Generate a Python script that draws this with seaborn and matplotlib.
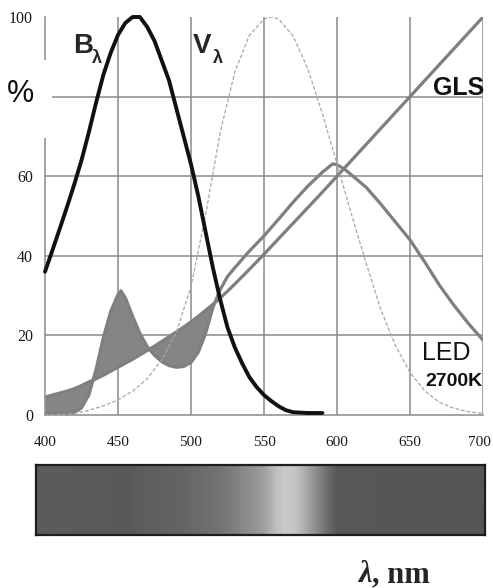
import numpy as np
import matplotlib
matplotlib.use("Agg")
import matplotlib.pyplot as plt
from matplotlib.colors import LinearSegmentedColormap
from matplotlib.patches import Rectangle
from matplotlib.transforms import ScaledTranslation
import seaborn as sns

# Relative spectral power (%) of the two light sources, on a shared wavelength grid (nm)
wl_src = [400, 405, 410, 415, 420, 425, 430, 435, 440, 445, 450, 452, 455, 460, 465,
          470, 475, 480, 485, 490, 495, 500, 505, 510, 515, 520, 525, 530, 540, 550,
          560, 570, 580, 590, 597, 600, 605, 610, 620, 630, 640, 650, 660, 670, 680,
          690, 700]
gls = [4.5, 5.0, 5.5, 6.0, 6.6, 7.4, 8.3, 9.1, 10.0, 11.0, 12.0, 12.4, 13.0, 14.0, 15.1,
       16.2, 17.3, 18.5, 19.7, 20.9, 22.1, 23.4, 24.8, 26.3, 27.8, 29.4, 31.1, 32.9, 36.6, 40.4,
       44.3, 48.2, 52.1, 56.0, 58.8, 60.0, 62.0, 64.0, 68.0, 72.0, 76.0, 80.0, 84.0, 88.0, 92.0,
       96.0, 100.0]
led = [0.3, 0.3, 0.3, 0.4, 0.6, 1.8, 5.0, 11.5, 19.5, 26.0, 30.3, 31.2, 29.5, 24.8, 20.5,
       17.2, 15.0, 13.4, 12.4, 12.0, 12.2, 13.2, 15.8, 20.5, 27.0, 31.5, 34.8, 37.0, 41.2, 45.0,
       49.2, 53.5, 57.5, 61.0, 63.1, 62.9, 61.8, 60.3, 57.2, 53.0, 48.5, 44.0, 38.5, 32.7, 27.6,
       23.0, 18.8]

# Blue-light hazard function B(lambda), %
wl_blue = [400, 405, 410, 415, 420, 425, 430, 435, 440, 445, 450, 455, 460, 465, 470, 475,
           480, 485, 490, 495, 500, 505, 510, 515, 520, 525, 530, 535, 540, 545, 550, 555,
           560, 565, 570, 580, 590]
blue_hazard = [36, 41.3, 46.7, 52.2, 57.9, 64.0, 71.0, 78.5, 85.5, 91, 95.5, 98.5, 100, 100,
               97.5, 94, 89, 84, 77, 70, 63, 55, 46, 37, 29, 22, 17, 13, 9.5, 7, 5, 3.5,
               2.2, 1.2, 0.7, 0.5, 0.5]

# Photopic luminous efficiency V(lambda), %
wl_v = [400, 410, 420, 430, 440, 450, 460, 470, 480, 490, 500, 510, 520, 530, 540, 550, 555,
        560, 570, 580, 590, 600, 610, 620, 630, 640, 650, 660, 670, 680, 690, 700]
v_lambda = [0.04, 0.12, 0.4, 1.16, 2.3, 3.8, 6.0, 9.1, 13.9, 20.8, 32.3, 50.3, 71.0, 86.2,
            95.4, 99.5, 100.0, 99.5, 95.2, 87.0, 75.7, 63.1, 50.3, 38.1, 26.5, 17.5, 10.7,
            6.1, 3.2, 1.7, 0.82, 0.41]

x_ticks = [400, 450, 500, 550, 600, 650, 700]
x_tick_labels = ["400", "450", "500", "550", "600", "650", "700"]
y_ticks = [0, 20, 40, 60, 80, 100]
y_tick_labels = ["0", "20", "40", "60", "", "100"]

# Grey rendering of the visible spectrum strip (nm -> grey level 0..255)
bar_wl = [393.8, 420, 440, 455, 465, 490, 500, 515, 525, 535, 545, 552, 558, 564, 572,
          578, 585, 592, 600, 650, 701.4]
bar_grey = [91, 91, 90, 88, 94, 99, 105, 112, 122, 135, 150, 165, 190, 203, 195,
            175, 145, 115, 88, 86, 86]

sns.set_style("white")
plt.rcParams["font.family"] = ["Liberation Sans", "DejaVu Sans"]

W, H = 493, 588
fig = plt.figure(figsize=(W / 100, H / 100), dpi=100)
ax = fig.add_axes([45 / W, 1 - 415 / H, 438 / W, 398 / H])

grid_c = "#8a8a8a"
src_c = "#7f7f7f"

for xv in x_ticks[1:]:
    ax.axvline(xv, color=grid_c, lw=1.1, zorder=0)
for yv in y_ticks[1:-1]:
    ax.axhline(yv, color=grid_c, lw=1.1, zorder=0)

wl_arr = np.asarray(wl_src)
ax.fill_between(wl_arr, led, gls, where=wl_arr <= 520, interpolate=True,
                color="#858585", lw=0, zorder=1)

sns.lineplot(x=wl_src, y=gls, ax=ax, color=src_c, lw=2.3, zorder=2)
sns.lineplot(x=wl_src, y=led, ax=ax, color=src_c, lw=2.3, zorder=2)
sns.lineplot(x=wl_v, y=v_lambda, ax=ax, color="#a6a6a6", lw=0.9,
             linestyle=(0, (3, 1.6)), zorder=3)
sns.lineplot(x=wl_blue, y=blue_hazard, ax=ax, color="#111111", lw=2.8,
             zorder=4, clip_on=False)

ax.set_xlim(400, 700)
ax.set_ylim(0, 100)
ax.set_xlabel("")
ax.set_ylabel("")
ax.set_xticks(x_ticks)
ax.set_xticklabels(x_tick_labels, family="Liberation Serif", fontsize=11)
ax.set_yticks(y_ticks)
ax.set_yticklabels(y_tick_labels, family="Liberation Serif", fontsize=11.5)
ax.tick_params(axis="x", length=5, width=1.1, color=grid_c, labelcolor="#1a1a1a", pad=10)
ax.tick_params(axis="y", length=3.6, width=1.1, color=grid_c, labelcolor="#1a1a1a", pad=5)
# keep the last wavelength label inside the canvas
last_lbl = ax.get_xticklabels()[-1]
last_lbl.set_transform(last_lbl.get_transform()
                       + ScaledTranslation(-2.5 / 72, 0, fig.dpi_scale_trans))
for side in ("top", "right"):
    ax.spines[side].set_visible(False)
for side in ("left", "bottom"):
    ax.spines[side].set_color(grid_c)
    ax.spines[side].set_linewidth(1.1)

# curve labels
ax.text(419.2, 91, "B", fontsize=20, weight="bold", ha="left", va="baseline")
ax.text(432.2, 88.4, "λ", fontsize=13, weight="bold", ha="left", va="baseline")
ax.text(501.4, 91, "V", fontsize=20, weight="bold", ha="left", va="baseline")
ax.text(515.0, 88.4, "λ", fontsize=13, weight="bold", ha="left", va="baseline")
ax.text(665.8, 80.4, "GLS", fontsize=18, weight="bold", ha="left", va="baseline",
        color="#111111", clip_on=False)
ax.text(658.2, 13.8, "LED", fontsize=18, ha="left", va="baseline", color="#111111")
ax.text(660.3, 7.3, "2700K", fontsize=14, weight="bold", ha="left", va="baseline",
        color="#111111")

# axis unit label on the y axis
fig.add_artist(Rectangle((0, 1 - 138 / H), 52 / W, 78 / H, transform=fig.transFigure,
                         facecolor="white", edgecolor="none", zorder=5))
fig.text(20.5 / W, 1 - 94 / H, "%", fontsize=22, ha="center", va="center",
         color="#111111", zorder=6)

# visible-spectrum strip
bax = fig.add_axes([36 / W, 1 - 535 / H, 449 / W, 70 / H])
span = bar_wl[-1] - bar_wl[0]
cmap = LinearSegmentedColormap.from_list(
    "spectrum_grey",
    [((w - bar_wl[0]) / span, (g / 255, g / 255, g / 255)) for w, g in zip(bar_wl, bar_grey)])
ramp = np.linspace(bar_wl[0], bar_wl[-1], 900)[None, :]
bax.imshow(ramp, aspect="auto", cmap=cmap, vmin=bar_wl[0], vmax=bar_wl[-1],
           extent=[bar_wl[0], bar_wl[-1], 0, 1])
bax.set_xticks([])
bax.set_yticks([])
for s in bax.spines.values():
    s.set_color("#1e1e1e")
    s.set_linewidth(1.6)

# x axis quantity
t_lam = fig.text(358 / W, 1 - 582 / H, "λ", fontsize=22, weight="bold", style="italic",
                 family="Liberation Serif", ha="left", va="baseline")
bax.annotate(", nm", xy=(1, 0), xycoords=t_lam, fontsize=22, weight="bold",
             family="Liberation Serif", ha="left", va="bottom", annotation_clip=False)

fig.savefig("out.png", dpi=100)
